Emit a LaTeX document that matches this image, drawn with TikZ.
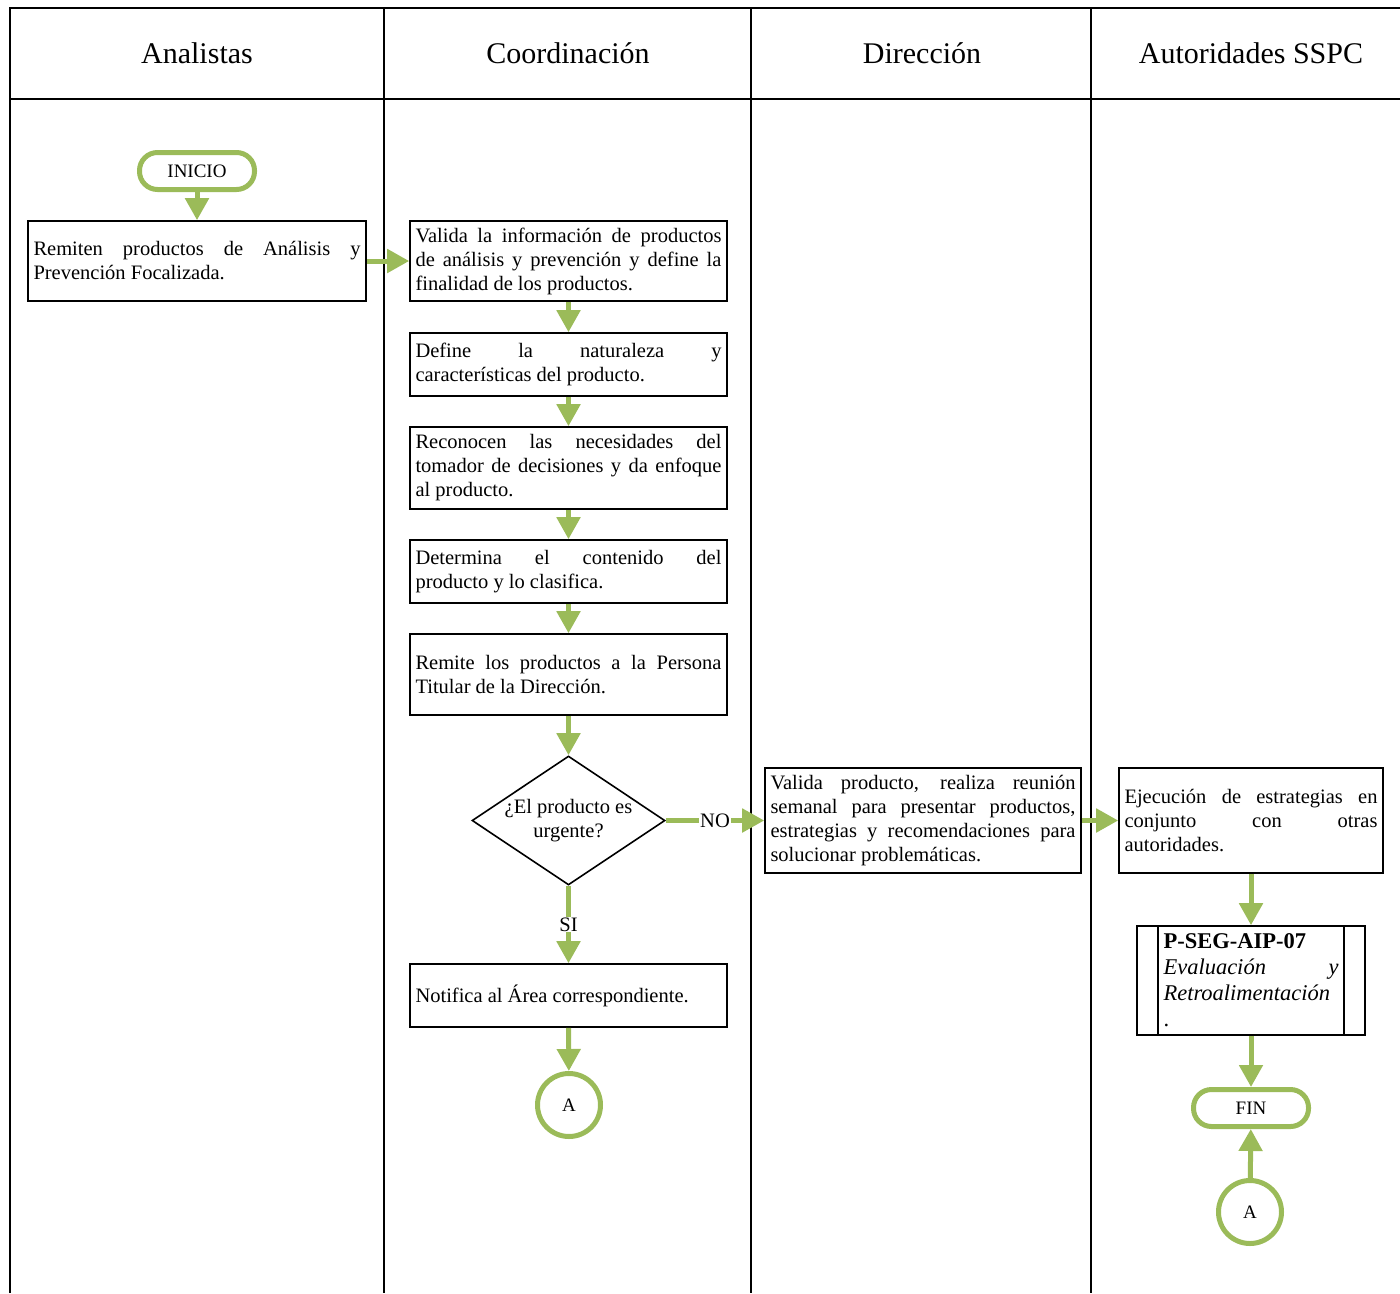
\documentclass[tikz,border=0pt]{standalone}
\usepackage{fontspec}
\setmainfont{Liberation Serif}
\usetikzlibrary{shapes.geometric,arrows.meta}
\definecolor{verde}{RGB}{155,187,89}
\hyphenpenalty=10000
\exhyphenpenalty=10000

\begin{document}
\begin{tikzpicture}[x=1pt,y=-1pt]
	\tikzstyle{Box} = [rectangle, draw=black, line width=1.6pt, inner xsep=5.5pt, inner ysep=0pt, align=justify, font=\fontsize{20.5}{24}\selectfont]
	\tikzstyle{Term} = [rectangle, rounded corners=18pt, draw=verde, line width=5pt, minimum width=115pt, minimum height=37pt, font=\fontsize{19}{23}\selectfont]
	\tikzstyle{Con} = [circle, draw=verde, line width=5pt, minimum size=63pt, inner sep=0pt, font=\fontsize{19}{23}\selectfont]
	\tikzstyle{Dec} = [diamond, draw=black, line width=1.6pt, aspect=1.5, inner sep=0pt, minimum width=193pt, minimum height=129pt, align=center, font=\fontsize{20.5}{24}\selectfont]
	\tikzstyle{Head} = [font=\fontsize{30}{36}\selectfont]
	\tikzstyle{arrow} = [draw=verde, line width=5pt, -{Triangle[width=23pt,length=22pt]}]
	\tikzstyle{lbl} = [fill=white, inner sep=1pt, font=\fontsize{20.5}{24}\selectfont]

	\useasboundingbox (0,0) rectangle (1400,1293);

	\draw [line width=1.6pt, black] (10,1293) -- (10,8) -- (1400,8);
	\draw [line width=1.6pt, black] (10,99) -- (1400,99);
	\draw [line width=1.6pt, black] (384,8) -- (384,1293);
	\draw [line width=1.6pt, black] (751,8) -- (751,1293);
	\draw [line width=1.6pt, black] (1091,8) -- (1091,1293);

	\node (hana) [Head] at (197,53) {Analistas};
	\node (hcoo) [Head] at (568,53) {Coordinación};
	\node (hdir) [Head] at (922,53) {Dirección};
	\node (haut) [Head] at (1251,53) {Autoridades SSPC};

	\node (inicio) [Term] at (197,171) {INICIO};
	\node (remiten) [Box, text width=327pt, minimum height=80pt] at (197,261) {Remiten productos de Análisis y\linebreak Prevención Focalizada.};

	\node (valida) [Box, text width=306pt, minimum height=80pt] at (568.5,261) {Valida la información de productos\linebreak de análisis y prevención y define la\linebreak finalidad de los productos.};
	\node (define) [Box, text width=306pt, minimum height=63pt] at (568.5,364.5) {Define la naturaleza y\linebreak características del producto.};
	\node (reconocen) [Box, text width=306pt, minimum height=82pt] at (568.5,468) {Reconocen las necesidades del\linebreak tomador de decisiones y da enfoque\linebreak al producto.};
	\node (determina) [Box, text width=306pt, minimum height=63pt] at (568.5,571.5) {Determina el contenido del\linebreak producto y lo clasifica.};
	\node (remite) [Box, text width=306pt, minimum height=81pt] at (568.5,674.5) {Remite los productos a la Persona\linebreak Titular de la Dirección.};
	\node (urgente) [Dec] at (568.5,820.5) {¿El producto es\\urgente?};
	\node (notifica) [Box, text width=306pt, minimum height=63pt] at (568.5,995.5) {Notifica al Área correspondiente.};
	\node (conA) [Con] at (569,1105) {A};

	\node (reunion) [Box, text width=305pt, minimum height=105pt] at (923,820.5) {Valida producto, realiza reunión\linebreak semanal para presentar productos,\linebreak estrategias y recomendaciones para\linebreak solucionar problemáticas.};

	\node (ejecucion) [Box, text width=253pt, minimum height=105pt] at (1251,820.5) {Ejecución de estrategias en\linebreak conjunto con otras\linebreak autoridades.};
	\node (proc) [Box, text width=175pt, inner sep=0pt, minimum width=228pt, minimum height=109pt, align=left, font=\fontsize{22.5}{26}\selectfont] at (1251,980.5) {\textbf{P-SEG-AIP-07}\\ \textit{Evaluación}\hfill\textit{y}\\ \textit{Retroalimentación}\\ .};
	\draw [line width=1.6pt, black] ([xshift=22pt]proc.north west) -- ([xshift=22pt]proc.south west);
	\draw [line width=1.6pt, black] ([xshift=-22pt]proc.north east) -- ([xshift=-22pt]proc.south east);
	\node (fin) [Term] at (1251,1108) {FIN};
	\node (conA2) [Con] at (1250,1212) {A};

	\draw [arrow] (inicio) -- (remiten);
	\draw [arrow] (remiten) -- (valida);
	\draw [arrow] (valida) -- (define);
	\draw [arrow] (define) -- (reconocen);
	\draw [arrow] (reconocen) -- (determina);
	\draw [arrow] (determina) -- (remite);
	\draw [arrow] (remite) -- (urgente);
	\draw [arrow] (urgente) -- node [lbl] {NO} (reunion);
	\draw [arrow] (urgente) -- node [lbl] {SI} (notifica);
	\draw [arrow] (notifica) -- (conA);
	\draw [arrow] (reunion) -- (ejecucion);
	\draw [arrow] (ejecucion) -- (proc);
	\draw [arrow] (proc) -- (fin);
	\draw [arrow] (conA2) -- (fin);
\end{tikzpicture}
\end{document}
